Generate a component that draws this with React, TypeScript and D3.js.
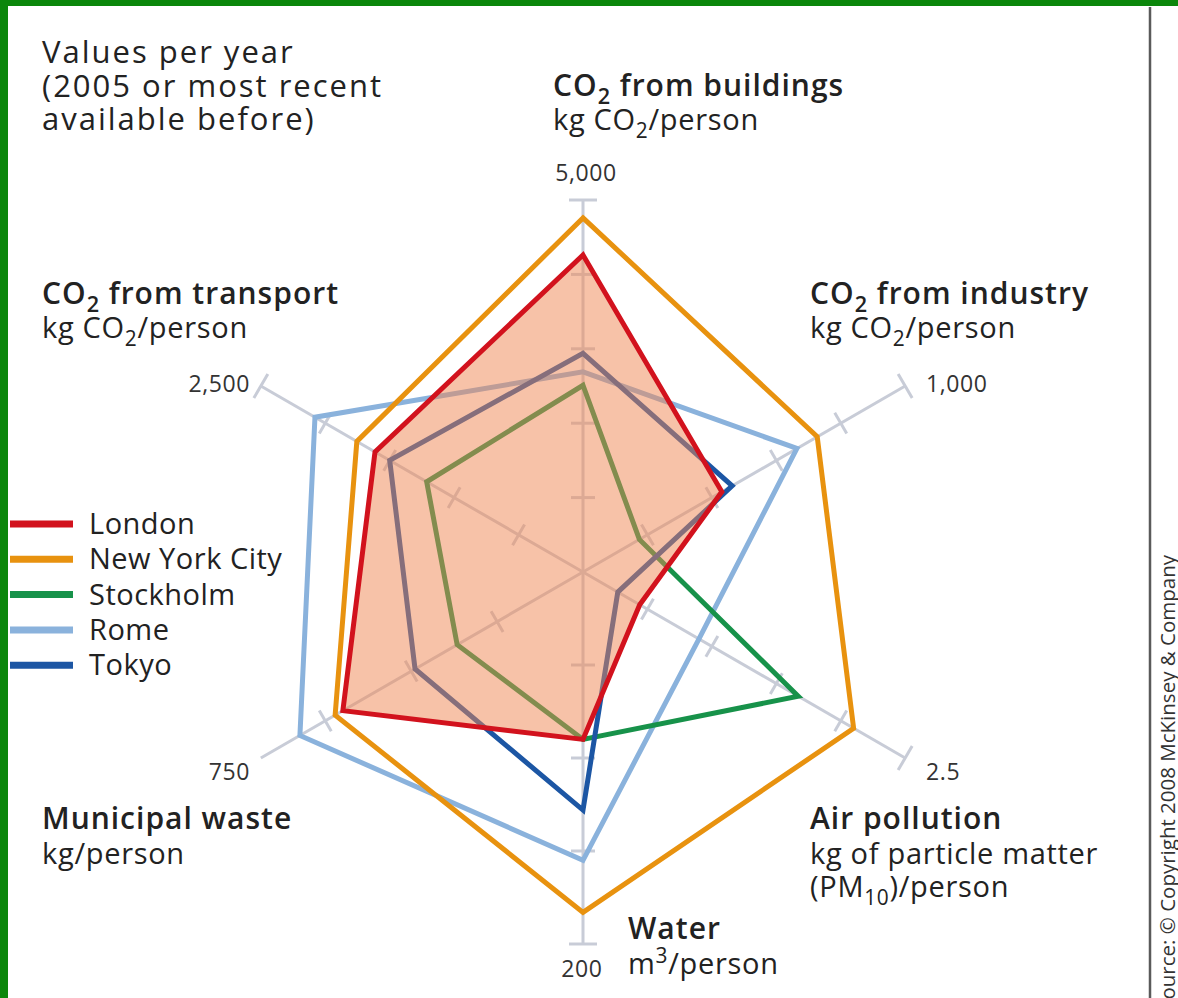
import React from 'react';
import * as d3 from 'd3';

// axes clockwise from the top
const axisNames = ['buildings', 'industry', 'air', 'water', 'waste', 'transport'];
const axisMax = [5000, 1000, 2.5, 200, 750, 2500];
const axisMaxLabels = ['5,000', '1,000', '2.5', '200', '750', '2,500'];

const cities = ['London', 'New York City', 'Stockholm', 'Rome', 'Tokyo'];
const cityColors = ['#d2121d', '#e8920f', '#17924a', '#8ab2dc', '#1c56a4'];

const london = [4260, 431, 0.44, 90, 559, 1614];
const newYork = [4760, 727, 2.1, 183, 577, 1755];
const stockholm = [2510, 175, 1.67, 90, 293, 1213];
const rome = [2690, 664, 0.9, 155, 659, 2080];
const tokyo = [2940, 463, 0.27, 128, 391, 1500];

const W = 1178;
const H = 998;
const cx = 583;
const cy = 572;
const R = 372;
const FONT = "'Open Sans', 'Noto Sans', sans-serif";

const scales = axisMax.map(m => d3.scaleLinear().domain([0, m]).range([0, R]));
const angle = d3.scaleLinear().domain([0, 6]).range([0, 2 * Math.PI]);

const radar = d3.lineRadial<number>()
  .angle((_, i) => angle(i))
  .radius((v, i) => scales[i](v))
  .curve(d3.curveLinearClosed);

const pt = (i: number, r: number) => {
  const a = angle(i);
  return [Math.sin(a) * r, -Math.cos(a) * r];
};

// text with a subscript in the middle
const subText = (pre: string, sub: string, post: string, shift = 8) => (
  <>
    <tspan>{pre}</tspan>
    <tspan dy={shift} fontSize="0.72em">{sub}</tspan>
    <tspan dy={-shift}>{post}</tspan>
  </>
);

const App: React.FC = () => {
  const series = [rome, newYork, stockholm, tokyo];
  const seriesColors = [cityColors[3], cityColors[1], cityColors[2], cityColors[4]];

  return (
    <div style={{ position: 'absolute', left: 0, top: 0, width: W, height: H, background: '#fff' }}>
      <svg width={W} height={H} style={{ fontFamily: FONT, display: 'block' }}>
        <rect width={W} height={H} fill="#fff" />
        {/* frame */}
        <rect x={0} y={0} width={W} height={6} fill="#0b870b" />
        <rect x={0} y={0} width={8} height={H} fill="#0b870b" />
        <line x1={1150} y1={7} x2={1150} y2={H} stroke="#5a5a5a" strokeWidth={2.5} />
        <text transform="translate(1175,555) rotate(-90)" textAnchor="end" fontSize={20.5} fill="#333">
          Source: © Copyright 2008 McKinsey &amp; Company
        </text>

        <g transform={`translate(${cx},${cy})`}>
          {/* axes */}
          {axisMax.map((_, i) => {
            const [x, y] = pt(i, R);
            const a = angle(i);
            const px = Math.cos(a);
            const py = Math.sin(a);
            return (
              <g key={axisNames[i]}>
                <line x1={0} y1={0} x2={x} y2={y} stroke="#c8ccd7" strokeWidth={3} />
                {scales[i].ticks(5).filter(t => t > 0).map(t => {
                  const [tx, ty] = pt(i, scales[i](t));
                  const h = t === axisMax[i] ? 14 : 12;
                  return (
                    <line key={t} x1={tx - px * h} y1={ty - py * h} x2={tx + px * h} y2={ty + py * h}
                      stroke="#c8ccd7" strokeWidth={3} />
                  );
                })}
              </g>
            );
          })}

          {series.map((s, k) => (
            <path key={k} d={radar(s) || ''} fill="none" stroke={seriesColors[k]} strokeWidth={5} />
          ))}

          {/* London area on top, translucent */}
          <path d={radar(london) || ''} fill="#ef8652" fillOpacity={0.5} stroke="none" />
          <path d={radar(london) || ''} fill="none" stroke={cityColors[0]} strokeWidth={5} />
        </g>

        {/* title */}
        <g fontSize={31} fill="#222" fontWeight={500} letterSpacing={2}>
          <text x={42} y={63}>Values per year</text>
          <text x={42} y={97}>(2005 or most recent</text>
          <text x={42} y={130}>available before)</text>
        </g>

        {/* axis labels */}
        <g fontSize={30} fill="#222" fontWeight={600} letterSpacing={1}>
          <text x={553} y={96}>{subText('CO', '2', ' from buildings')}</text>
          <text x={810} y={304}>{subText('CO', '2', ' from industry')}</text>
          <text x={42} y={304}>{subText('CO', '2', ' from transport')}</text>
          <text x={42} y={829}>Municipal waste</text>
          <text x={810} y={829}>Air pollution</text>
          <text x={628} y={939}>Water</text>
        </g>
        <g fontSize={29} fill="#222" letterSpacing={0.7}>
          <text x={553} y={130}>{subText('kg CO', '2', '/person')}</text>
          <text x={810} y={338}>{subText('kg CO', '2', '/person')}</text>
          <text x={42} y={338}>{subText('kg CO', '2', '/person')}</text>
          <text x={42} y={864}>kg/person</text>
          <text x={810} y={864}>kg of particle matter</text>
          <text x={810} y={897}>{subText('(PM', '10', ')/person')}</text>
          <text x={628} y={974}>{subText('m', '3', '/person', -11)}</text>
        </g>

        {/* axis maxima */}
        <g fontSize={23} fill="#333" letterSpacing={0.6}>
          <text x={586} y={181} textAnchor="middle">{axisMaxLabels[0]}</text>
          <text x={926} y={392}>{axisMaxLabels[1]}</text>
          <text x={926} y={780}>{axisMaxLabels[2]}</text>
          <text x={582} y={977} textAnchor="middle">{axisMaxLabels[3]}</text>
          <text x={250} y={780} textAnchor="end">{axisMaxLabels[4]}</text>
          <text x={250} y={392} textAnchor="end">{axisMaxLabels[5]}</text>
        </g>

        {/* legend */}
        <g fontSize={29} fill="#222" letterSpacing={0.5}>
          {cities.map((c, i) => (
            <g key={c} transform={`translate(0,${524 + i * 35.3})`}>
              <line x1={10} x2={73} y1={0} y2={0} stroke={cityColors[i]} strokeWidth={7} />
              <text x={89} y={10}>{c}</text>
            </g>
          ))}
        </g>
      </svg>
    </div>
  );
};

export default App;
